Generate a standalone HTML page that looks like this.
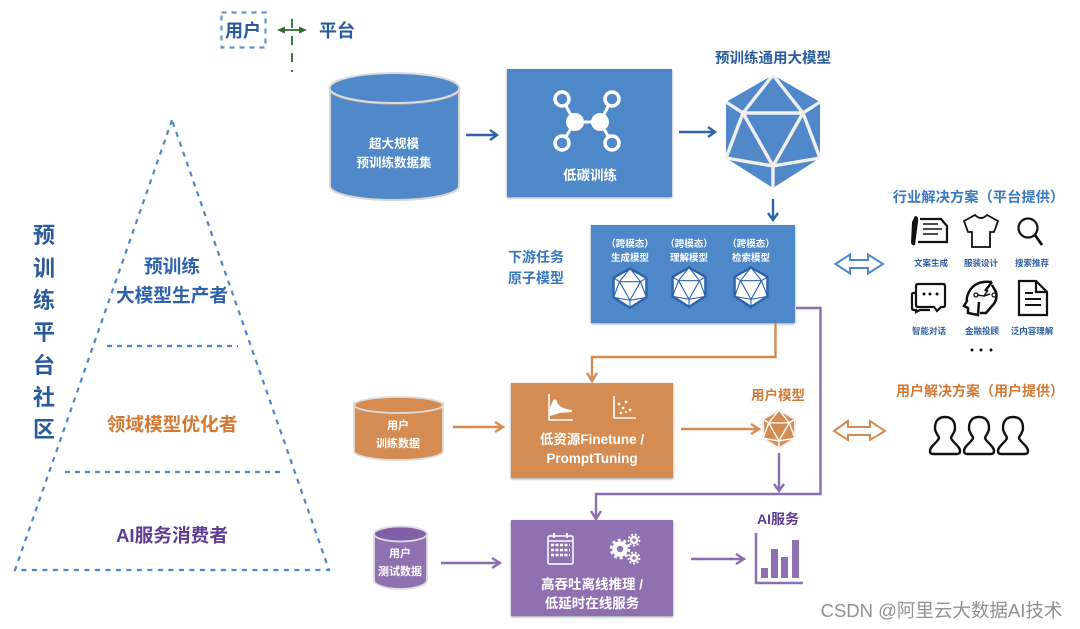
<!DOCTYPE html>
<html><head><meta charset="utf-8"><style>
html,body{margin:0;padding:0;background:#fff;width:1080px;height:629px;overflow:hidden}
svg{display:block;filter:blur(.3px)}
text{font-family:"Liberation Sans","Noto Sans CJK SC",sans-serif;font-weight:700;text-anchor:middle}
</style></head><body>
<svg width="1080" height="629" viewBox="0 0 1080 629" xmlns="http://www.w3.org/2000/svg">
<defs>
<filter id="sh" x="-5%" y="-5%" width="110%" height="112%"><feDropShadow dx="0" dy="1" stdDeviation="1.2" flood-color="#000" flood-opacity=".4"/></filter>
<g id="icoLines">
<path d="M0-56L-30-18M0-56L30-18M-47-29L-30-18M47-29L30-18M-30-18H30M-30-18L0 35M30-18L0 35M-30-18L-47 27M30-18L47 27M-47 27L0 35M47 27L0 35M0 35V57"/>
</g>
<polygon id="icoOut" points="0,-56 47,-29 47,27 0,57 -47,27 -47,-29"/>
</defs>

<!-- legend -->
<rect x="221.500" y="12.500" width="44" height="35" fill="none" stroke="#5f95cf" stroke-width="2.200" stroke-dasharray="5 5"/>
<text x="243" y="37" font-size="18" fill="#2b5b9c">用户</text>
<path d="M292 19V72" stroke="#3c7a3c" stroke-width="2" stroke-dasharray="9 8" fill="none"/>
<path d="M280 30H304" stroke="#2f6f30" stroke-width="1.800"/>
<path d="M277 30L285 26.500V33.500ZM307 30L299 26.500V33.500Z" fill="#2f6f30"/>
<text x="337" y="37" font-size="18" fill="#2b5b9c">平台</text>

<!-- pyramid -->
<path d="M172 120L15 570H329Z" fill="none" stroke="#4f86c6" stroke-width="2.200" stroke-dasharray="5 5.500"/>
<path d="M107 346H238M65 472H280" fill="none" stroke="#4f86c6" stroke-width="2.200" stroke-dasharray="5 5"/>
<text x="172" y="273" font-size="18.700" fill="#2f62aa">预训练</text>
<text x="172" y="302" font-size="18.700" fill="#2f62aa">大模型生产者</text>
<text x="172" y="431" font-size="18.700" fill="#d07a35">领域模型优化者</text>
<text x="172" y="542" font-size="18.700" fill="#5f3d93">AI服务消费者</text>
<g font-size="22" fill="#2a5a9a">
<text x="44" y="243">预</text><text x="44" y="276">训</text><text x="44" y="308">练</text><text x="44" y="340">平</text><text x="44" y="373">台</text><text x="44" y="405">社</text><text x="44" y="437">区</text>
</g>

<!-- big cylinder -->
<path d="M330 88V186C330 194 358 200 394 200S459 194 459 186V88Z" fill="#5088c9" stroke="#d6d6d6" stroke-width="2"/>
<ellipse cx="394.500" cy="89" rx="65" ry="15" fill="none" stroke="#a8a8a8" stroke-width="1.500"/>
<ellipse cx="394.500" cy="88" rx="65" ry="15" fill="#5088c9" stroke="#dcdcdc" stroke-width="2"/>
<text x="394" y="148" font-size="12.500" fill="#fff">超大规模</text>
<text x="394" y="167" font-size="12.500" fill="#fff">预训练数据集</text>
<path d="M466 135H496M490 130L497 135L490 140" fill="none" stroke="#2d63ad" stroke-width="2.400"/>

<!-- low carbon box -->
<rect x="507" y="69" width="165" height="128" fill="#5088c9" filter="url(#sh)"/>
<g stroke="#fff" stroke-width="3" fill="none">
<path d="M562 99L575 122H600L612 99M575 122L562 143M600 122L612 143"/>
<g fill="#5088c9" stroke-width="3.500"><circle cx="562" cy="99" r="7"/><circle cx="612" cy="99" r="7"/><circle cx="562" cy="143" r="7"/><circle cx="612" cy="143" r="7"/></g>
</g>
<circle cx="575" cy="122" r="9" fill="#fff"/><circle cx="600" cy="122" r="9" fill="#fff"/>
<text x="590" y="180" font-size="13.500" fill="#fff">低碳训练</text>
<path d="M679 132H714M708 127L715 132L708 137" fill="none" stroke="#2d63ad" stroke-width="2.400"/>

<!-- big icosahedron -->
<text x="773" y="63" font-size="14.500" fill="#2b5b9c">预训练通用大模型</text>
<g transform="translate(773,131)">
<use href="#icoOut" fill="#5088c9"/>
<use href="#icoLines" fill="none" stroke="#f0f0f0" stroke-width="3.400"/>
</g>
<path d="M773 199V219M768 213L773 220L778 213" fill="none" stroke="#2d63ad" stroke-width="2.400"/>

<!-- downstream box -->
<text x="536" y="262" font-size="14" fill="#3a78be">下游任务</text>
<text x="536" y="283" font-size="14" fill="#3a78be">原子模型</text>
<rect x="591" y="225" width="204" height="98" fill="#5088c9" filter="url(#sh)"/>
<g font-size="9.500" fill="#fff">
<text x="630" y="247">（跨模态）</text><text x="630" y="261">生成模型</text>
<text x="689" y="247">（跨模态）</text><text x="689" y="261">理解模型</text>
<text x="751" y="247">（跨模态）</text><text x="751" y="261">检索模型</text>
</g>
<g transform="translate(630,288) scale(.35)"><use href="#icoOut" fill="#fff" stroke="#2d63ad" stroke-width="7"/><use href="#icoLines" fill="none" stroke="#2d63ad" stroke-width="3.200"/></g>
<g transform="translate(689,287) scale(.35)"><use href="#icoOut" fill="#fff" stroke="#2d63ad" stroke-width="7"/><use href="#icoLines" fill="none" stroke="#2d63ad" stroke-width="3.200"/></g>
<g transform="translate(751,287) scale(.35)"><use href="#icoOut" fill="#fff" stroke="#2d63ad" stroke-width="7"/><use href="#icoLines" fill="none" stroke="#2d63ad" stroke-width="3.200"/></g>

<!-- connectors -->
<path d="M775.500 323V357H592V379M587 373L592 381L597 373" fill="none" stroke="#d58a4f" stroke-width="2.400"/>
<path d="M796 308H820.500V494H596V518M591 511L596 519L601 511" fill="none" stroke="#8c6eb0" stroke-width="2.400"/>

<!-- double arrows -->
<path d="M835.500 264L850 254.500V260H868V254.500L883 264L868 273.500V268H850V273.500Z" fill="#fff" stroke="#4f88c8" stroke-width="2"/>
<path d="M834 431L848 421V427H870V421L885 431L870 440V435H848V440Z" fill="#fff" stroke="#d58a4f" stroke-width="2"/>

<!-- industry -->
<text x="978.500" y="202" font-size="14.300" fill="#3b78c0">行业解决方案（平台提供）</text>
<!-- doc pen -->
<g fill="none" stroke="#111" stroke-width="2.200">
<path d="M920 219H941L947 226V242H918"/><path d="M923 224H938M923 229H942M923 234H938" stroke-width="1.400"/>
</g>
<path d="M915 216Q919 216 918 222L915 245Q912 246 911 243L912 222Z" fill="#111"/>
<!-- shirt -->
<path d="M975 215Q981 221 987 215L998 221L994 232H990V247H972V232H968L964 221Z" fill="none" stroke="#111" stroke-width="1.800"/>
<!-- search -->
<circle cx="1028" cy="228" r="9.500" fill="none" stroke="#111" stroke-width="2.200"/><path d="M1035 235L1042 245" stroke="#111" stroke-width="2.800"/>
<g font-size="8.500" fill="#2f5f9f">
<text x="931" y="266">文案生成</text><text x="981" y="266">服装设计</text><text x="1032" y="266">搜索推荐</text>
<text x="929" y="334">智能对话</text><text x="982" y="334">金融投顾</text><text x="1032" y="334">泛内容理解</text>
</g>
<!-- chat -->
<g fill="none" stroke="#111" stroke-width="2.200">
<path d="M918 284H943Q945 284 945 286V305Q945 307 943 307H941L937 311L934 307H918Q916 307 916 305V286Q916 284 918 284Z"/>
<path d="M916 293H913Q912 293 912 295V308Q912 310 914 310H916V312L920 310H930"/>
</g>
<g fill="#111"><circle cx="924" cy="294" r="1.500"/><circle cx="930" cy="294" r="1.500"/><circle cx="937" cy="294" r="1.500"/></g>
<!-- head -->
<path d="M992 282Q975 280 969 292Q966 298 967 301L964 306L968 308V313L978 315L979 302M992 282L985 291" fill="none" stroke="#111" stroke-width="2.500"/>
<path d="M992 285L996 292Q998 300 992 306L986 313H980" fill="none" stroke="#111" stroke-width="2.500"/>
<path d="M977 295L984 296L988 290M984 296L990 294" fill="none" stroke="#111" stroke-width="1.500"/><circle cx="976" cy="295" r="2" fill="none" stroke="#111" stroke-width="1.300"/><circle cx="994" cy="295" r="2" fill="none" stroke="#111" stroke-width="1.300"/>
<!-- doc -->
<path d="M1019 281H1036L1047 292V315H1019Z M1036 281V292H1047" fill="none" stroke="#111" stroke-width="2.200"/>
<path d="M1025 293H1033M1025 299H1041M1025 305H1041" stroke="#111" stroke-width="2"/>
<g fill="#111"><circle cx="972" cy="350" r="1.500"/><circle cx="981" cy="350" r="1.500"/><circle cx="991" cy="350" r="1.500"/></g>

<!-- orange row -->
<path d="M354 403V451C354 456 374 460 398.500 460S443 456 443 451V403Z" fill="#d58c52" stroke="#dcdcdc" stroke-width="1.800"/>
<ellipse cx="398.500" cy="405" rx="44.500" ry="8" fill="#d58c52" stroke="#dcdcdc" stroke-width="1.800"/>
<text x="398" y="429" font-size="11" fill="#fff">用户</text>
<text x="398" y="447" font-size="11" fill="#fff">训练数据</text>
<path d="M453 427H501M495 422L503 427L495 432" fill="none" stroke="#d58c52" stroke-width="2.400"/>
<rect x="511" y="383" width="162" height="95" fill="#d58c52" filter="url(#sh)"/>
<g stroke="#fff" fill="none" stroke-width="1.600">
<path d="M549 394V420H573M614 396V418H636"/>
</g>
<path d="M550 408C554 396 556 398 558 404C561 408 566 409 572 410V412C565 413 560 412 557 414L550 416Z" fill="#fff"/>
<g fill="#fff"><circle cx="619" cy="404" r="1.400"/><circle cx="626" cy="402" r="1.400"/><circle cx="623" cy="408" r="1.400"/><circle cx="630" cy="410" r="1.400"/><circle cx="621" cy="413" r="1.400"/><circle cx="626" cy="412" r="1.100"/></g>
<text x="592" y="444" font-size="13.500" fill="#fff">低资源Finetune /</text>
<text x="592" y="463" font-size="13.500" fill="#fff">PromptTuning</text>
<path d="M681 429H757M751 424L759 429L751 434" fill="none" stroke="#d58c52" stroke-width="2.400"/>
<text x="778" y="400" font-size="13.500" fill="#d07a35">用户模型</text>
<g transform="translate(779,429) scale(.34)"><use href="#icoOut" fill="#d58c52" stroke="#eee" stroke-width="6"/><use href="#icoLines" fill="none" stroke="#fff" stroke-width="4"/></g>
<path d="M779 453V490M774 484L779 491L784 484" fill="none" stroke="#8c6eb0" stroke-width="2.400"/>

<!-- purple row -->
<path d="M374 534V580C374 585 386 589 400.500 589S427 585 427 580V534Z" fill="#8f71b2" stroke="#dcdcdc" stroke-width="1.800"/>
<ellipse cx="400.500" cy="534" rx="26.500" ry="7.500" fill="#7f60a8" stroke="#dcdcdc" stroke-width="1.800"/>
<text x="400" y="557" font-size="11" fill="#fff">用户</text>
<text x="400" y="575" font-size="11" fill="#fff">测试数据</text>
<path d="M441 563H498M492 558L500 563L492 568" fill="none" stroke="#8c6eb0" stroke-width="2.400"/>
<rect x="511" y="520" width="162" height="96" fill="#8f71b2" filter="url(#sh)"/>
<rect x="548" y="536" width="25" height="28" rx="1.500" fill="none" stroke="#fff" stroke-width="1.500"/>
<path d="M548 541H573" stroke="#fff" stroke-width="1.500"/><path d="M554 533V538M567 533V538" stroke="#fff" stroke-width="1.800"/>
<path d="M551 545H570M551 550H570M551 555H570" stroke="#fff" stroke-width="2.500" stroke-dasharray="3 1.500"/>
<g fill="none" stroke="#fff">
<circle cx="620" cy="549" r="5.500" stroke-width="4.500"/><circle cx="620" cy="549" r="9" stroke-width="2.500" stroke-dasharray="3 2.700"/>
<circle cx="634" cy="540" r="3" stroke-width="2.500"/><circle cx="634" cy="540" r="5.500" stroke-width="1.800" stroke-dasharray="2 1.800"/>
<circle cx="634" cy="558" r="3" stroke-width="2.500"/><circle cx="634" cy="558" r="5.500" stroke-width="1.800" stroke-dasharray="2 1.800"/>
</g>
<text x="592" y="589" font-size="13.500" fill="#fff">高吞吐离线推理 /</text>
<text x="592" y="608" font-size="13.500" fill="#fff">低延时在线服务</text>
<path d="M691 559H742M736 554L744 559L736 564" fill="none" stroke="#8c6eb0" stroke-width="2.400"/>
<text x="778" y="524" font-size="14" fill="#5b3d8f">AI服务</text>
<path d="M756 533V583H803" fill="none" stroke="#8f71b2" stroke-width="2.500"/>
<g fill="#8f71b2"><rect x="761" y="568" width="7" height="10"/><rect x="771" y="549" width="7" height="29"/><rect x="781" y="557" width="7" height="21"/><rect x="792" y="540" width="7" height="38"/></g>

<!-- user solutions -->
<text x="980" y="396" font-size="14" fill="#d07a35">用户解决方案（用户提供）</text>
<g fill="none" stroke="#111" stroke-width="2.400" stroke-linejoin="round">
<path id="p" d="M945 417C937 417 935 423 935 428C935 433 939 436 939 438C938 442 930 446 930 451Q930 454 933 454H957Q960 454 960 451C960 446 952 442 951 438C951 436 955 433 955 428C955 423 953 417 945 417Z"/>
<use href="#p" x="34"/>
<use href="#p" x="68"/>
</g>

<!-- watermark -->
<text x="941.500" y="617" font-size="18.500" style="font-weight:400" fill="#909090">CSDN @阿里云大数据AI技术</text>
</svg>
</body></html>
